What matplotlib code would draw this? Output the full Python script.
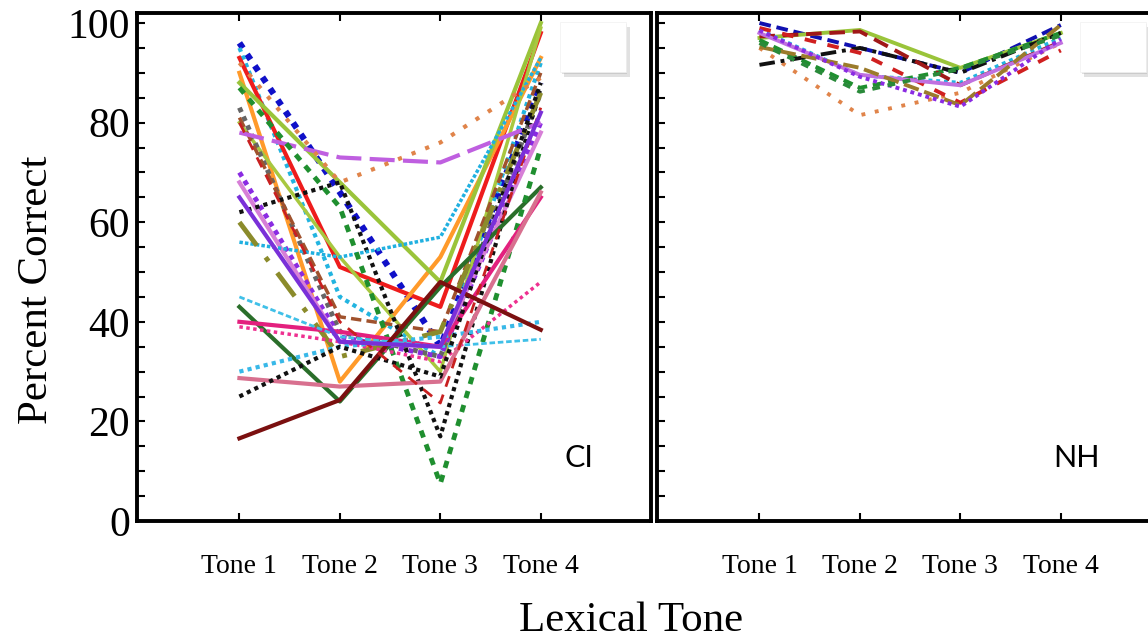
import matplotlib.pyplot as plt
import matplotlib.patches as mpatches
import matplotlib.patheffects as pe
import numpy as np

plt.rcParams['font.family'] = ['Liberation Serif', 'DejaVu Serif']

tones = ['Tone 1', 'Tone 2', 'Tone 3', 'Tone 4']

# cochlear-implant listeners: percent correct for tones 1-4
ci_scores = [
    [96, 66, 35, 88],
    [95, 45, 33, 92],
    [93, 51, 43, 98],
    [90, 28, 53, 93],
    [88, 68, 48, 100],
    [80, 53, 30, 99],
    [83, 38, 33, 86],
    [81, 41, 38, 90],
    [70, 37, 33, 80],
    [68, 36, 35, 78],
    [62, 68, 17, 87],
    [56, 53, 57, 93],
    [60, 33, 38, 86],
    [78, 73, 72, 80],
    [92, 68, 76, 89],
    [43, 24, 47, 67],
    [87, 63, 7.5, 75],
    [40, 38, 35, 65],
    [39, 36, 32, 48],
    [30, 35, 37, 40],
    [45, 37, 35, 36.5],
    [28.7, 27, 28, 66],
    [25, 35, 29, 88],
    [16.6, 24.3, 48, 38.4],
    [80, 40, 23.7, 83],
    [65, 36, 35, 82],
]
ci_colors = ['#1010c8', '#22b4e0', '#ee1c1c', '#ff9a2a', '#9ac43a', '#a8c840',
             '#666666', '#a0522d', '#8a2be2', '#d77fd7', '#111111', '#20b0e0',
             '#8b8b2b', '#bf5fe0', '#e0844a', '#2a6e2a', '#1f8f2f', '#e3207e',
             '#ee3090', '#38b8e8', '#40c0e8', '#d8708f', '#111111', '#7b1010',
             '#c82020', '#7a30d8']
ci_styles = [(0, (1, 1.2)), (0, (1, 1)), '-', '-', '-', '-',
             (0, (1, 1)), (0, (3, 1.5)), (0, (1, 1)), '-', (0, (1, 1)), (0, (1, 0.6)),
             (0, (6, 3, 1, 3)), (0, (6, 2)), (0, (1, 2.5)), '-', (0, (1.5, 1.5)), '-',
             (0, (1, 1)), (0, (1, 1)), (0, (2, 1)), '-', (0, (1, 1)), '-',
             (0, (4, 3)), '-']
ci_widths = [4.5, 3, 3, 3, 3, 2.5, 3.5, 2.5, 3.5, 3, 3, 2.5,
             3.5, 3, 3, 3, 3.5, 3, 2.5, 3, 2, 3, 3, 3, 2, 3]

# normal-hearing listeners
nh_scores = [
    [100, 95, 90, 99.6],
    [97, 98.6, 91, 98],
    [98.6, 89.5, 88, 97],
    [96.6, 87, 91, 98],
    [95, 81.5, 86, 96],
    [91.6, 95, 90, 98],
    [97.3, 98.3, 87.5, 96.2],
    [99, 94, 84, 94.5],
    [98, 89.6, 87.5, 96],
    [95.2, 91, 83.5, 99.6],
    [98.5, 89.2, 83.2, 96.8],
    [96, 86.2, 90.8, 97.5],
]
nh_colors = ['#1010b0', '#9ac43a', '#22b4e0', '#1f8f2f', '#e0844a', '#111111',
             '#a01818', '#d02020', '#c070e0', '#9b7b2b', '#8a2be2', '#2a8a3a']
nh_styles = [(0, (3, 1.5)), '-', (0, (1, 1)), (0, (2.5, 1.5)), (0, (1, 2.5)),
             (0, (4, 1.5, 1, 1.5)), (0, (4, 2)), (0, (3, 3)), '-', (0, (4, 1.5)),
             (0, (1, 1)), (0, (2, 2))]


def draw_panel(ax, scores, colors, styles, widths, tag, tag_x, show_labels):
    x = np.arange(1, len(tones) + 1)
    for vals, c, ls, lw in zip(scores, colors, styles, widths):
        ax.plot(x, vals, color=c, linestyle=ls, lw=lw, dash_capstyle='butt')

    ax.set_xlim(-0.02, 5.1)
    ax.set_ylim(0, 102)
    ax.set_xticks(x, tones, fontsize=20)
    ax.set_yticks(np.arange(0, 101, 20))
    ax.set_yticks(np.arange(0, 101, 5), minor=True)
    ax.tick_params(axis='x', direction='in', length=6, width=1.5, top=True,
                   pad=24)
    ax.tick_params(axis='y', which='both', direction='in', length=6, width=1.5,
                   labelsize=30, pad=5, labelleft=show_labels)
    for sp in ax.spines.values():
        sp.set_linewidth(2.8)

    ax.text(tag_x, 0.125, tag, transform=ax.transAxes, fontsize=22,
            family=['Lato', 'DejaVu Sans'], ha='center', va='center')

    # empty legend frame with a soft shadow
    box = mpatches.Rectangle((0.823, 0.884), 0.128, 0.098, transform=ax.transAxes,
                             facecolor='white', edgecolor='#f0f0f0', lw=0.5,
                             zorder=5, clip_on=False)
    box.set_path_effects([pe.SimplePatchShadow(offset=(2.5, -3.5), shadow_rgbFace='#888888', alpha=0.25),
                          pe.SimplePatchShadow(offset=(1, -1.5), shadow_rgbFace='#999999', alpha=0.3),
                          pe.Normal()])
    ax.add_patch(box)


fig = plt.figure(figsize=(11.48, 6.43), dpi=100)
ax_ci = fig.add_axes([0.1193, 0.1897, 0.448, 0.790])
ax_nh = fig.add_axes([0.5723, 0.1897, 0.448, 0.790])

draw_panel(ax_ci, ci_scores, ci_colors, ci_styles, ci_widths, 'CI', 0.86, True)
draw_panel(ax_nh, nh_scores, nh_colors, nh_styles, [2.8] * len(nh_scores), 'NH', 0.815, False)

ax_ci.set_ylabel('Percent Correct', fontsize=31)
ax_ci.yaxis.set_label_coords(-0.157, 0.455)
fig.text(0.55, 0.034, 'Lexical Tone', fontsize=31, ha='center', va='center')

fig.savefig('out.png', dpi=100)
